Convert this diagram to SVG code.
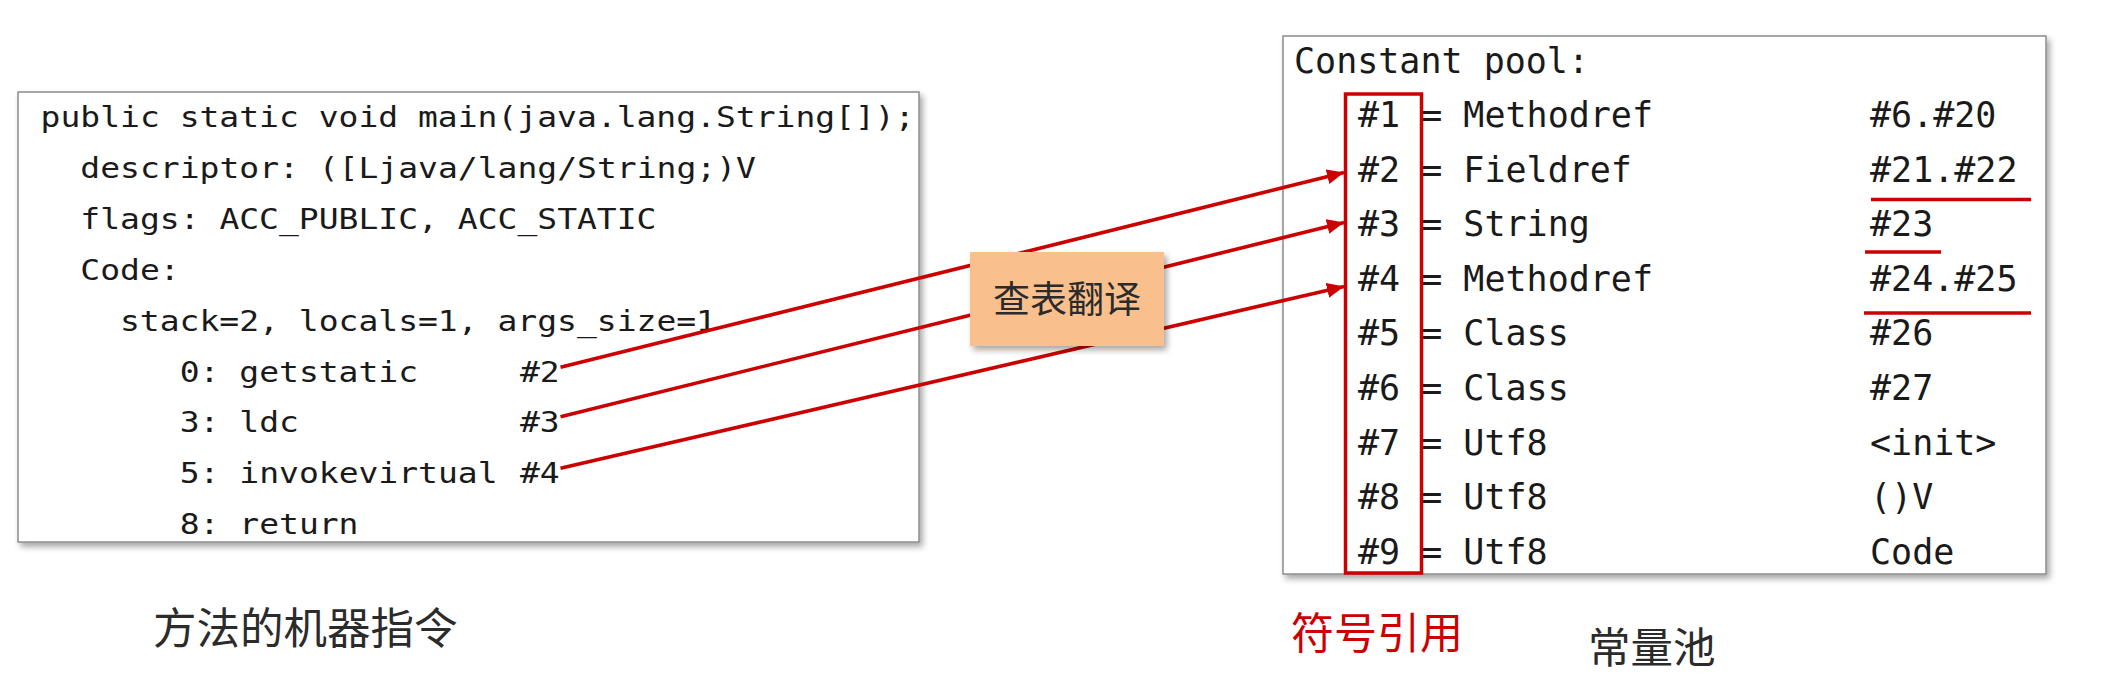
<svg xmlns="http://www.w3.org/2000/svg" width="2123" height="693" viewBox="0 0 2123 693">
<style>
.box{fill:#fff;stroke:#8c8c8c;stroke-width:1.5}
.code{font-family:"DejaVu Sans Mono","Liberation Mono",monospace;font-size:28.5px;fill:#1a1a1a}
.pool{font-family:"DejaVu Sans Mono","Liberation Mono",monospace;font-size:35px;fill:#1a1a1a}
.cjk{font-family:"Noto Sans CJK SC","Noto Sans",sans-serif;fill:#2b2b2b}
.red{stroke:#cc0000;fill:none}
.conn{stroke:#cc0000;stroke-width:3.6;fill:none;marker-end:url(#arrow)}
</style>
<defs>
<filter id="shadow" x="-5%" y="-5%" width="110%" height="115%">
<feDropShadow dx="3" dy="4" stdDeviation="3" flood-color="#000" flood-opacity="0.35"/>
</filter>
<marker id="arrow" markerUnits="userSpaceOnUse" markerWidth="20" markerHeight="16" refX="17" refY="7.5" orient="auto">
<path d="M0,0 L17,7.5 L0,15 z" fill="#cc0000"/>
</marker>
</defs>
<rect width="2123" height="693" fill="#fff"/>

<g id="code-box">
<rect class="box" x="18" y="92" width="901" height="450" filter="url(#shadow)"/>
<text class="code" x="40.6" y="127" textLength="874" lengthAdjust="spacingAndGlyphs">public static void main(java.lang.String[]);</text>
<text class="code" x="80.3" y="178" textLength="675.6" lengthAdjust="spacingAndGlyphs">descriptor: ([Ljava/lang/String;)V</text>
<text class="code" x="80.3" y="229" textLength="576.2" lengthAdjust="spacingAndGlyphs">flags: ACC_PUBLIC, ACC_STATIC</text>
<text class="code" x="80.3" y="280" textLength="99.4" lengthAdjust="spacingAndGlyphs">Code:</text>
<text class="code" x="120" y="330.6" textLength="596" lengthAdjust="spacingAndGlyphs">stack=2, locals=1, args_size=1</text>
<text class="code" x="179.7" y="381.5" textLength="238.4" lengthAdjust="spacingAndGlyphs">0: getstatic</text>
<text class="code" x="520" y="381.5" textLength="39.7" lengthAdjust="spacingAndGlyphs">#2</text>
<text class="code" x="179.7" y="432.4" textLength="119.2" lengthAdjust="spacingAndGlyphs">3: ldc</text>
<text class="code" x="520" y="432.4" textLength="39.7" lengthAdjust="spacingAndGlyphs">#3</text>
<text class="code" x="179.7" y="483.3" textLength="317.9" lengthAdjust="spacingAndGlyphs">5: invokevirtual</text>
<text class="code" x="520" y="483.3" textLength="39.7" lengthAdjust="spacingAndGlyphs">#4</text>
<text class="code" x="179.7" y="534.2" textLength="178.8" lengthAdjust="spacingAndGlyphs">8: return</text>
</g>

<g id="constant-pool">
<rect class="box" x="1283" y="36" width="763" height="538" filter="url(#shadow)"/>
<text class="pool" x="1294" y="73">Constant pool:</text>
<text class="pool" x="1358" y="127">#1 = Methodref</text>
<text class="pool" x="1870" y="127">#6.#20</text>
<text class="pool" x="1358" y="181.6">#2 = Fieldref</text>
<text class="pool" x="1870" y="181.6">#21.#22</text>
<text class="pool" x="1358" y="236.2">#3 = String</text>
<text class="pool" x="1870" y="236.2">#23</text>
<text class="pool" x="1358" y="290.8">#4 = Methodref</text>
<text class="pool" x="1870" y="290.8">#24.#25</text>
<text class="pool" x="1358" y="345.4">#5 = Class</text>
<text class="pool" x="1870" y="345.4">#26</text>
<text class="pool" x="1358" y="400">#6 = Class</text>
<text class="pool" x="1870" y="400">#27</text>
<text class="pool" x="1358" y="454.6">#7 = Utf8</text>
<text class="pool" x="1870" y="454.6">&lt;init&gt;</text>
<text class="pool" x="1358" y="509.2">#8 = Utf8</text>
<text class="pool" x="1870" y="509.2">()V</text>
<text class="pool" x="1358" y="563.8">#9 = Utf8</text>
<text class="pool" x="1870" y="563.8">Code</text>
<rect class="red" x="1345.5" y="94" width="76" height="479" stroke-width="3.5"/>
<line class="red" x1="1871" y1="199.5" x2="2031" y2="199.5" stroke-width="3.5"/>
<line class="red" x1="1865" y1="252" x2="1941" y2="252" stroke-width="3.5"/>
<line class="red" x1="1864" y1="313" x2="2031" y2="313" stroke-width="3.5"/>
</g>

<g id="connectors">
<line class="conn" x1="560.5" y1="367.3" x2="1344" y2="172.5"/>
<line class="conn" x1="560.5" y1="416.7" x2="1344" y2="222.5"/>
<line class="conn" x1="560.5" y1="468.3" x2="1344" y2="286.5"/>
</g>

<g id="translate-label">
<rect x="970" y="252" width="194" height="94" fill="#f9c08d" filter="url(#shadow)"/>
<text class="cjk" x="1067" y="313" font-size="37" text-anchor="middle">查表翻译</text>
</g>

<g id="label-method">
<text class="cjk" x="153" y="643.5" font-size="43.5">方法的机器指令</text>
</g>
<g id="label-symref">
<text class="cjk" x="1291" y="649" font-size="43" style="fill:#cc0000">符号引用</text>
</g>
<g id="label-pool">
<text class="cjk" x="1588" y="663" font-size="42.5">常量池</text>
</g>
</svg>
